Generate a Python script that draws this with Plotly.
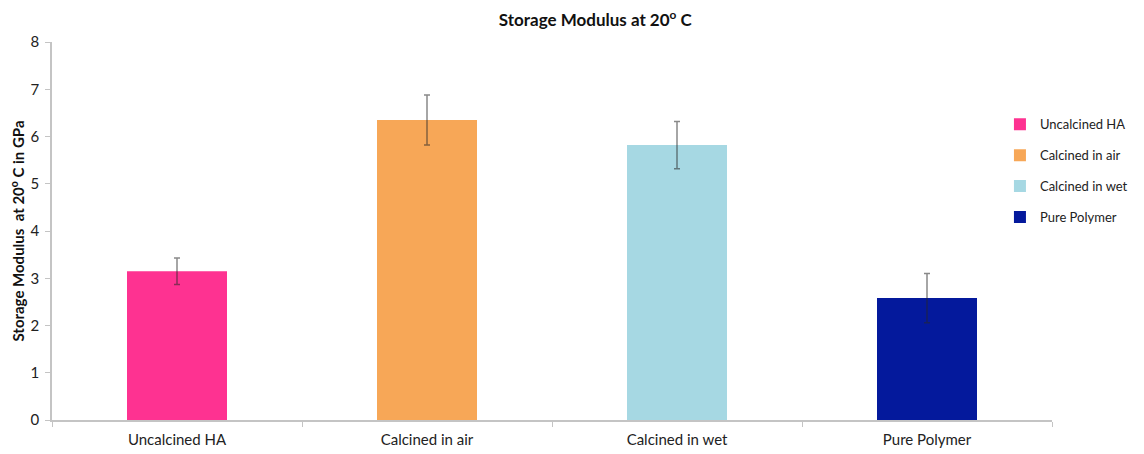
import plotly.graph_objects as go

categories = ["Uncalcined HA", "Calcined in air", "Calcined in wet", "Pure Polymer"]
values = [3.15, 6.35, 5.82, 2.58]
errors = [0.28, 0.53, 0.50, 0.52]
colors = ["#FE3291", "#F7A757", "#A6D8E3", "#04199C"]

fig = go.Figure()
for cat, v, e, c in zip(categories, values, errors, colors):
    fig.add_trace(go.Bar(
        x=[cat], y=[v], name=cat, marker_color=c, marker_line_width=0,
        width=0.4, legendgroup=cat,
        error_y=dict(type="data", array=[e], visible=True,
                     color="rgba(40,40,40,0.55)", thickness=1.5, width=3),
    ))

FONT = "Lato"
fig.update_layout(
    width=1136, height=446,
    paper_bgcolor="white", plot_bgcolor="white",
    margin=dict(l=44, r=91, t=34, b=34),
    barmode="overlay",
    font=dict(family=FONT, size=12, color="#222"),
    title=dict(text="<b>Storage Modulus at 20<sup>o</sup> C</b>", x=0.517, xanchor="center",
               y=0.972, yanchor="middle", font=dict(size=17, color="#111")),
    showlegend=True,
    legend=dict(x=0.947, xanchor="left", y=0.822, yanchor="top",
                tracegroupgap=11, font=dict(size=13, color="#222"),
                bgcolor="rgba(0,0,0,0)"),
    xaxis=dict(type="category", categoryorder="array", categoryarray=categories,
               showline=True, linecolor="#C4C4C4", linewidth=1.5, automargin=False,
               ticks="outside", tickson="boundaries", ticklen=5, tickcolor="#C4C4C4",
               ticklabelstandoff=5,
               showgrid=False, tickfont=dict(size=15, color="#222")),
    yaxis=dict(range=[0, 8], dtick=1, showline=True, linecolor="#C4C4C4", linewidth=1.5,
               ticks="outside", ticklen=5, tickcolor="#C4C4C4", showgrid=False,
               ticklabelstandoff=3, automargin=False,
               zeroline=False, tickfont=dict(size=15, color="#222"),
               title=dict(text="<b>Storage Modulus  at 20<sup>o</sup> C in GPa</b>",
                          font=dict(size=15, color="#111"), standoff=3)),
)

fig.write_html("out.html")
